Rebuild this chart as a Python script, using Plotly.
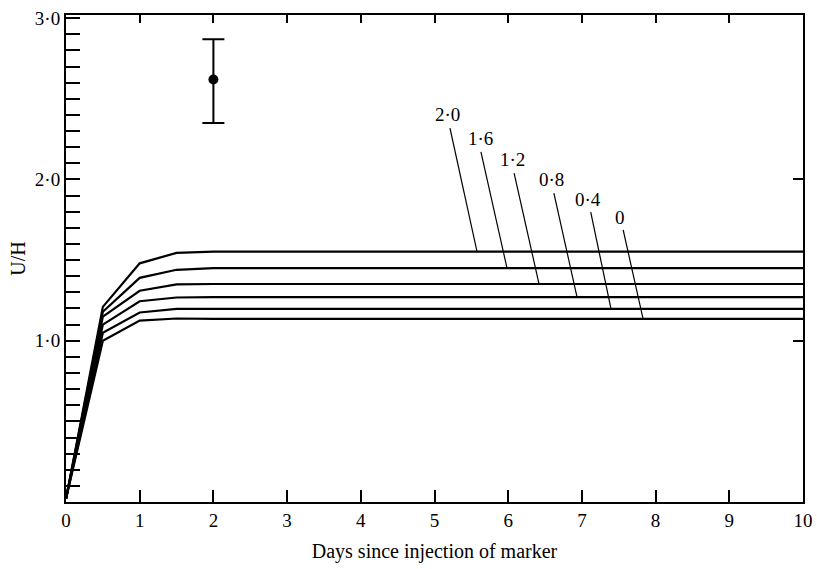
import plotly.graph_objects as go

# ---- data ----
days = [0, 0.5, 1, 1.5, 2, 10]
curve_labels = ["2·0", "1·6", "1·2", "0·8", "0·4", "0"]
curve_values = {
    "2·0": [0.02, 1.21, 1.48, 1.545, 1.553, 1.553],
    "1·6": [0.02, 1.18, 1.39, 1.44, 1.45, 1.45],
    "1·2": [0.02, 1.15, 1.31, 1.35, 1.352, 1.352],
    "0·8": [0.02, 1.10, 1.245, 1.268, 1.27, 1.27],
    "0·4": [0.02, 1.05, 1.175, 1.197, 1.197, 1.197],
    "0":   [0.02, 1.00, 1.125, 1.138, 1.136, 1.136],
}
obs_day = [2]
obs_value = [2.62]
obs_err_plus = [0.25]
obs_err_minus = [0.27]

x_ticks = list(range(0, 11))
y_tick_vals = [1, 2, 3]
y_tick_text = ["1·0", "2·0", "3·0"]

# label placement (data coords): text position, leader start, leader end x
label_pos = {
    "2·0": (5.17, 2.40),
    "1·6": (5.62, 2.257),
    "1·2": (6.065, 2.127),
    "0·8": (6.594, 2.003),
    "0·4": (7.083, 1.879),
    "0":   (7.517, 1.767),
}
leader_start = {
    "2·0": (5.21, 2.319),
    "1·6": (5.63, 2.171),
    "1·2": (6.08, 2.040),
    "0·8": (6.62, 1.916),
    "0·4": (7.12, 1.798),
    "0":   (7.56, 1.687),
}
leader_end_x = {"2·0": 5.577, "1·6": 5.984, "1·2": 6.418, "0·8": 6.934, "0·4": 7.395, "0": 7.83}

FONT = "Liberation Serif, Times New Roman, serif"
XR = [0, 10]
YR = [0, 3.02]

fig = go.Figure()
for lab in curve_labels:
    fig.add_trace(go.Scatter(x=days, y=curve_values[lab], mode="lines",
                             line=dict(color="black", width=2.2), showlegend=False,
                             hoverinfo="skip"))

fig.add_trace(go.Scatter(x=obs_day, y=obs_value, mode="markers",
                         marker=dict(color="black", size=10),
                         error_y=dict(type="data", array=obs_err_plus, arrayminus=obs_err_minus,
                                      color="black", thickness=2, width=11),
                         xaxis="x2", yaxis="y2", showlegend=False))

for lab in curve_labels:
    tx, ty = label_pos[lab]
    fig.add_annotation(x=tx, y=ty, text=lab, showarrow=False,
                       font=dict(family=FONT, size=19, color="black"))
    sx, sy = leader_start[lab]
    ey = curve_values[lab][-1]
    fig.add_shape(type="line", x0=sx, y0=sy, x1=leader_end_x[lab], y1=ey,
                  line=dict(color="black", width=1.2))

fig.update_layout(
    width=817, height=569,
    margin=dict(l=66, r=14, t=15, b=67, autoexpand=False),
    paper_bgcolor="white", plot_bgcolor="white",
    font=dict(family=FONT, size=19, color="black"),
    showlegend=False,
    xaxis=dict(range=XR, showgrid=False, zeroline=False, showline=True, linecolor="black",
               linewidth=2, mirror=True, ticks="inside", ticklen=12, tickwidth=1.5,
               tickcolor="black", tickvals=x_ticks, ticktext=[str(v) for v in x_ticks],
               tickfont=dict(family=FONT, size=19), automargin=False,
               title=dict(text="Days since injection of marker", font=dict(family=FONT, size=20),
                          standoff=14)),
    yaxis=dict(range=YR, showgrid=False, zeroline=False, showline=True, linecolor="black",
               linewidth=2, mirror=True, ticks="inside", ticklen=14, tickwidth=1.5,
               tickcolor="black", tickvals=y_tick_vals, ticktext=y_tick_text,
               tickfont=dict(family=FONT, size=19), automargin=False,
               minor=dict(dtick=0.1, tick0=0, ticks="inside", ticklen=14, tickwidth=1.5,
                          tickcolor="black"),
               title=dict(text="U/H", font=dict(family=FONT, size=20), standoff=4)),
    xaxis2=dict(range=XR, overlaying="x", side="top", showgrid=False, zeroline=False,
                showline=False, ticks="inside", ticklen=8, tickwidth=1.5, tickcolor="black",
                tickvals=x_ticks[1:-1], showticklabels=False, automargin=False),
    yaxis2=dict(range=YR, overlaying="y", side="right", showgrid=False, zeroline=False,
                showline=False, ticks="inside", ticklen=10, tickwidth=1.5, tickcolor="black",
                tickvals=[1, 2], showticklabels=False, automargin=False),
)

fig.write_html("out.html", config={"displayModeBar": False},
               post_script="document.body.style.margin='0';")
